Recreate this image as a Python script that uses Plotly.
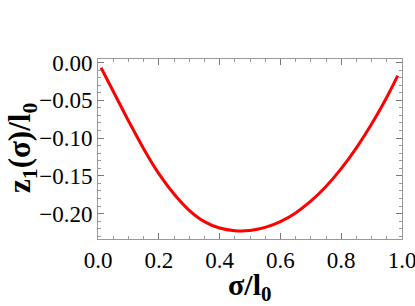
import plotly.graph_objects as go

sigma = [0.01, 0.05, 0.10, 0.15, 0.20, 0.25, 0.30, 0.35, 0.40, 0.45, 0.50,
         0.55, 0.60, 0.65, 0.70, 0.75, 0.80, 0.85, 0.90, 0.95, 0.986]
z1 = [-0.007, -0.038, -0.077, -0.114, -0.147, -0.174, -0.1955, -0.2105, -0.219, -0.2225, -0.2222,
      -0.2182, -0.2105, -0.199, -0.1835, -0.164, -0.1405, -0.113, -0.0815, -0.046, -0.0175]

xticks = [0.0, 0.2, 0.4, 0.6, 0.8, 1.0]
yticks = [0.00, -0.05, -0.10, -0.15, -0.20]

fig = go.Figure()
fig.add_trace(go.Scatter(x=sigma, y=z1, mode="lines",
                         line=dict(color="#ff0000", width=3, shape="spline", smoothing=1.0),
                         showlegend=False))

serif = "Liberation Serif, Times New Roman, serif"
font = dict(family=serif, size=23, color="black")
axis_common = dict(showgrid=False, zeroline=False, showline=True, linecolor="#999999",
                   linewidth=1, mirror="ticks", ticks="inside", ticklen=6, tickcolor="#777777",
                   tickfont=font, ticklabeloverflow="allow", automargin=False)

fig.update_layout(
    width=415, height=306, autosize=False,
    margin=dict(l=98, r=13, t=59, b=67, autoexpand=False),
    paper_bgcolor="white", plot_bgcolor="white",
    font=dict(family=serif, color="black"),
    xaxis=dict(range=[0.0, 1.0], tickvals=xticks, ticktext=[f"{v:.1f}" for v in xticks],
               minor=dict(dtick=0.05, ticks="inside", ticklen=3, tickcolor="#999999"),
               **axis_common),
    yaxis=dict(range=[-0.2335, 0.0046], tickvals=yticks,
               ticktext=[("−" if v < 0 else "") + f"{abs(v):.2f}" for v in yticks],
               minor=dict(dtick=0.01, ticks="inside", ticklen=3, tickcolor="#999999"),
               **axis_common),
    annotations=[
        dict(text="<b>σ/l<sub>0</sub></b>", xref="paper", yref="paper", x=0.5, y=-0.267,
             xanchor="center", yanchor="middle", showarrow=False,
             font=dict(family=serif, size=30, color="black")),
        dict(text="<b>z<sub>1</sub>(σ)/l<sub>0</sub></b>", xref="paper", yref="paper", x=-0.25, y=0.506,
             xanchor="center", yanchor="middle", textangle=-90, showarrow=False,
             font=dict(family=serif, size=31, color="black")),
    ],
)

fig.write_html("out.html", config={"displayModeBar": False, "responsive": False},
               post_script="document.body.style.margin='0';document.body.style.overflow='hidden';")
